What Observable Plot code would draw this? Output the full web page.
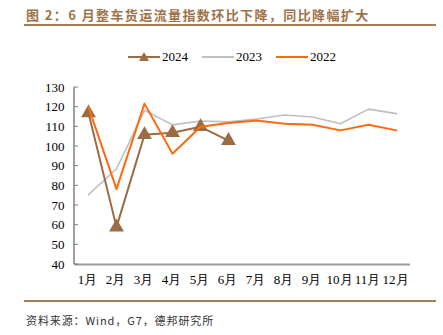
<!DOCTYPE html>
<html>
<head>
<meta charset="utf-8">
<script src="https://cdn.jsdelivr.net/npm/d3@7"></script>
<script src="https://cdn.jsdelivr.net/npm/@observablehq/plot@0.6"></script>
<style>
  html, body { margin: 0; padding: 0; background: #fff; }
  #page { position: relative; width: 443px; height: 335px; overflow: hidden; }
  #title { position: absolute; left: 26px; top: 5px; font-family: "Noto Sans CJK SC", sans-serif; font-weight: bold; font-size: 13px; letter-spacing: 1.4px; color: #9e7249; white-space: nowrap; }
  .rule { position: absolute; left: 24px; width: 412px; height: 2px; background: #a67c52; }
  #legend { position: absolute; top: 48px; left: 0; width: 443px; height: 18px; font-family: "Liberation Serif", serif; font-size: 13px; color: #000; }
  .item { position: absolute; top: 0; height: 18px; display: flex; align-items: center; }
  .item svg { margin-right: 2px; }
  #chart { position: absolute; left: 0; top: 70px; }
  #source { position: absolute; left: 26px; top: 312px; font-family: "Noto Sans CJK SC", sans-serif; font-size: 11px; letter-spacing: 0.9px; color: #333; white-space: nowrap; }
</style>
</head>
<body>
<div id="page">
  <div id="title">图 2：6 月整车货运流量指数环比下降，同比降幅扩大</div>
  <div class="rule" style="top:24px"></div>
  <div id="legend"></div>
  <div id="chart"></div>
  <div class="rule" style="top:300px"></div>
  <div id="source">资料来源：Wind，G7，德邦研究所</div>
</div>
<script>
const months = ["1月","2月","3月","4月","5月","6月","7月","8月","9月","10月","11月","12月"];
const yTicks = [40,50,60,70,80,90,100,110,120,130];
const series = ["2024","2023","2022"];
const v2024 = [117, 59, 106, 107, 110, 103];
const v2023 = [75.5, 88.7, 118.4, 111, 113, 112.5, 114, 116, 115, 111.6, 119, 116.7];
const v2022 = [120, 78.3, 121.8, 96.3, 110, 112, 113.2, 111.6, 111.1, 108.2, 111.1, 108.2];
const colors = {"2024": "#9b6b43", "2023": "#bfbfbf", "2022": "#ff6a10"};

const rows = (vals, s) => vals.map((v, i) => ({month: months[i], value: v, series: s}));
const d24 = rows(v2024, "2024"), d23 = rows(v2023, "2023"), d22 = rows(v2022, "2022");

const chart = Plot.plot({
  width: 443,
  height: 230,
  marginTop: 17,
  marginBottom: 36,
  marginLeft: 74,
  marginRight: 33,
  style: {fontFamily: "'Liberation Serif', serif", fontSize: "13px", color: "#000", background: "transparent"},
  x: {type: "point", domain: months, padding: 0.5, align: 0.5},
  y: {domain: [40, 130]},
  marks: [
    Plot.axisY({ticks: yTicks, tickSize: 0, tickPadding: 10, label: null, fill: "#000", fontSize: 13}),
    Plot.axisX({tickSize: 0, tickPadding: 10, label: null, fill: "#000", fontSize: 13, dx: -1}),
    Plot.line(d23, {x: "month", y: "value", stroke: colors["2023"], strokeWidth: 1.6}),
    Plot.line(d24, {x: "month", y: "value", stroke: colors["2024"], strokeWidth: 2}),
    Plot.dot(d24, {x: "month", y: "value", symbol: "triangle", r: 5.5, fill: colors["2024"], stroke: "none"}),
    Plot.line(d22, {x: "month", y: "value", stroke: colors["2022"], strokeWidth: 2}),
    Plot.ruleY([40], {stroke: "#9a9a9a", strokeWidth: 2})
  ]
});
document.getElementById("chart").appendChild(chart);
// left axis line and inward ticks, positioned by the chart's y scale
const sy = chart.scale("y");
const svg = d3.select(chart);
const axisX = 74;
svg.append("line")
  .attr("x1", axisX).attr("x2", axisX)
  .attr("y1", sy.apply(130)).attr("y2", sy.apply(40))
  .attr("stroke", "#808080").attr("stroke-width", 1.5);
svg.append("g").selectAll("line").data(yTicks).join("line")
  .attr("x1", axisX).attr("x2", axisX + 4)
  .attr("y1", d => sy.apply(d)).attr("y2", d => sy.apply(d))
  .attr("stroke", "#808080").attr("stroke-width", 1);

// legend
const legend = document.getElementById("legend");
const lx = {"2024": 128, "2023": 202, "2022": 276};
series.forEach(s => {
  const item = document.createElement("div");
  item.className = "item";
  item.style.left = lx[s] + "px";
  const tri = s === "2024" ? `<path d="M16,4 L21,13 L11,13 Z" fill="${colors[s]}"/>` : "";
  item.innerHTML = `<svg width="32" height="18"><line x1="0" x2="32" y1="9" y2="9" stroke="${colors[s]}" stroke-width="2"/>${tri}</svg><span>${s}</span>`;
  legend.appendChild(item);
});
</script>
</body>
</html>
